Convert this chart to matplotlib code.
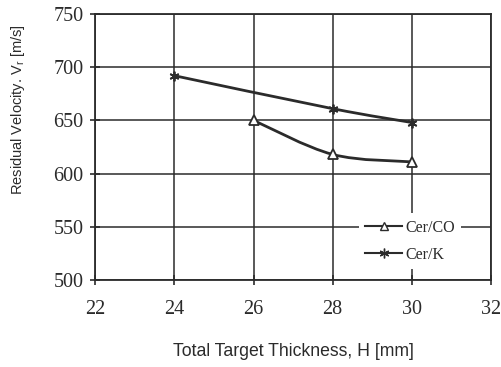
import numpy as np
import matplotlib.pyplot as plt
from matplotlib.path import Path
from matplotlib.patches import PathPatch
from matplotlib.lines import Line2D

# data
thick_co = [26, 28, 30]
vel_co = [650, 618, 611]
thick_k = [24, 28, 30]
vel_k = [692, 661, 648]

x_ticks = [22, 24, 26, 28, 30, 32]
y_ticks = [500, 550, 600, 650, 700, 750]

INK = '#2b2b2b'


def smooth_path(x, y, k=1/6):
    # excel-style smoothed line as cubic bezier segments through the points
    pts = np.column_stack([x, y]).astype(float)
    verts = [pts[0]]
    codes = [Path.MOVETO]
    n = len(pts)
    for i in range(n - 1):
        p0 = pts[i - 1] if i > 0 else pts[i]
        p1, p2 = pts[i], pts[i + 1]
        p3 = pts[i + 2] if i + 2 < n else pts[i + 1]
        c1 = p1 + (p2 - p0) * k
        c2 = p2 - (p3 - p1) * k
        verts += [c1, c2, p2]
        codes += [Path.CURVE4] * 3
    return Path(verts, codes)


def run():
    plt.rcParams['mathtext.default'] = 'regular'
    fig = plt.figure(figsize=(5.01, 3.67), dpi=100)
    ax = fig.add_axes([0.19, 0.237, 0.79, 0.725])

    ax.set_xlim(22, 32)
    ax.set_ylim(500, 750)
    ax.set_xticks(x_ticks)
    ax.set_yticks(y_ticks)
    ax.grid(True, color=INK, linewidth=1.1)
    ax.set_axisbelow(True)
    for s in ax.spines.values():
        s.set_color(INK)
        s.set_linewidth(1.3)
    ax.tick_params(direction='inout', length=7, width=1.2, color=INK,
                   labelsize=14.5, labelcolor=INK)
    ax.tick_params(axis='x', pad=11)
    ax.tick_params(axis='y', pad=5)
    for lab in ax.get_xticklabels() + ax.get_yticklabels():
        lab.set_fontfamily('Liberation Serif')

    asterisk = (6, 2, 0)
    for xs, ys, mk in [(thick_co, vel_co, '^'), (thick_k, vel_k, asterisk)]:
        ax.add_patch(PathPatch(smooth_path(xs, ys), fill=False,
                               edgecolor=INK, linewidth=2.0, zorder=3))
        ax.plot(xs, ys, linestyle='none', marker=mk, markersize=7,
                markerfacecolor='white', markeredgecolor=INK,
                markeredgewidth=1.3, zorder=4)

    handles = [
        Line2D([], [], color=INK, linewidth=1.5, marker='^', markersize=6,
               markerfacecolor='white', markeredgecolor=INK),
        Line2D([], [], color=INK, linewidth=1.5, marker=asterisk,
               markersize=7, markeredgecolor=INK),
    ]
    leg = ax.legend(handles, ['Cer/CO', 'Cer/K'], loc='lower right',
                    bbox_to_anchor=(0.945, 0.01), frameon=True,
                    fancybox=False, edgecolor='none', framealpha=1,
                    prop={'family': 'Liberation Serif', 'size': 11.5},
                    handlelength=2.3, handletextpad=0.2, labelspacing=0.7,
                    borderpad=0.4)
    for t in leg.get_texts():
        t.set_color(INK)

    ax.set_xlabel('Total Target Thickness, H [mm]', fontfamily='Liberation Sans',
                  fontsize=12.7, color=INK)
    ax.xaxis.set_label_coords(0.5, -0.235)
    ax.set_ylabel('Residual Velocity. V$_r$ [m/s]', fontfamily='Liberation Sans',
                  fontsize=10.5, color=INK)
    ax.yaxis.set_label_coords(-0.172, 0.64)

    fig.savefig('out.png', dpi=100)


if __name__ == "__main__":
    run()
